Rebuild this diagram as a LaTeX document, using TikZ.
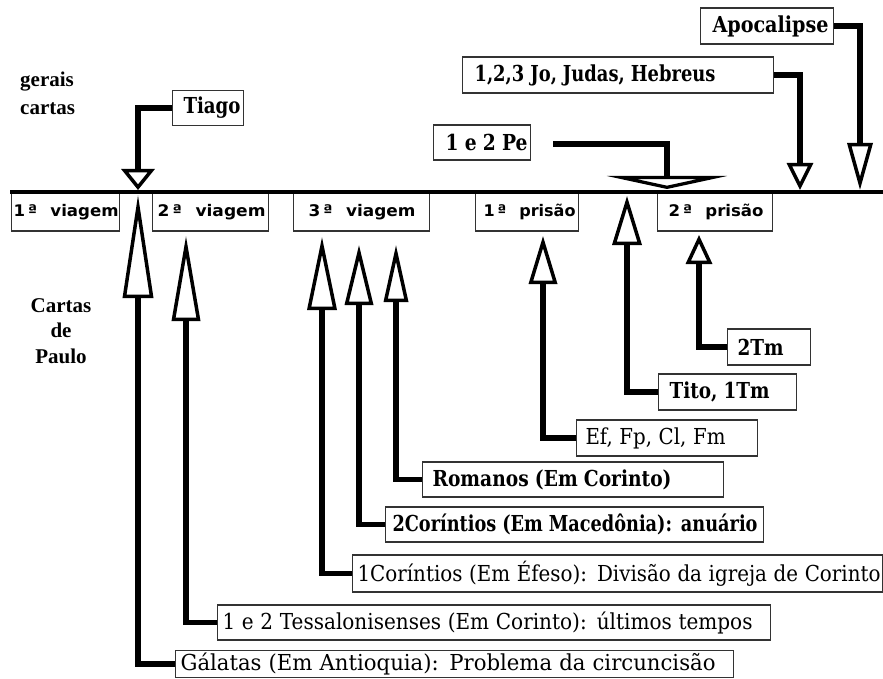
\documentclass[tikz,border=0pt]{standalone}
\usepackage{fontspec}
\setmainfont{DejaVu Serif}
\newfontfamily\tmsfont{Liberation Serif}
\newfontfamily\dsansfont{DejaVu Sans}
\usepackage{graphicx}
\usetikzlibrary{arrows.meta}
\newcommand\fitw[2]{\resizebox{#1pt}{\height}{#2}}
\begin{document}
\begin{tikzpicture}[x=1pt,y=-1pt,
  box/.style={draw=black!80, line width=1.1pt, fill=white, inner sep=0pt, anchor=west, align=left, font=\fontsize{22}{26}\selectfont},
  vbox/.style={box, font=\dsansfont\bfseries\fontsize{16}{18}\selectfont},
  side/.style={font=\tmsfont\bfseries\fontsize{21}{25.5}\selectfont, inner sep=0pt},
  conn/.style={line width=5.5pt},
  hd/.style args={#1/#2}{-{Triangle[open, length=#1pt, width=#2pt, line width=3.5pt]}}
]
\useasboundingbox (0,0) rectangle (883,679);

% side labels
\node[side, anchor=base west] (gerais) at (20,87) {gerais};
\node[side, anchor=base west] (cartas) at (20,115) {cartas};
\node[side, align=center] (paulo) at (61,331) {Cartas\\de\\Paulo};

% period boxes under the timeline
\node[vbox, text width=108pt, minimum height=38pt] (v1) at (11,212) {\hspace*{2pt}\fitw{105}{1\,ª\hspace{0.8em}viagem}};
\node[vbox, text width=116pt, minimum height=38pt] (v2) at (152,212) {\hspace*{5pt}\fitw{108}{2\,ª\hspace{0.8em}viagem}};
\node[vbox, text width=136pt, minimum height=38pt] (v3) at (293,212) {\hspace*{15pt}\fitw{107}{3\,ª\hspace{0.8em}viagem}};
\node[vbox, text width=103pt, minimum height=38pt] (p1) at (475,212) {\hspace*{8pt}\fitw{92}{1\,ª\hspace{0.8em}prisão}};
\node[vbox, text width=115pt, minimum height=38pt] (p2) at (657,212) {\hspace*{11pt}\fitw{95}{2\,ª\hspace{0.8em}prisão}};

% timeline
\coordinate (tlL) at (10,192);
\coordinate (tlR) at (883,192);
\draw[line width=4pt] (tlL) -- (tlR);

% general letters (above)
\node[box, text width=71pt, minimum height=35pt] (tiago) at (172,108) {\hspace*{11pt}\fitw{57}{\bfseries Tiago}};
\node[box, text width=133pt, minimum height=36pt] (apo) at (700,26) {\hspace*{12pt}\fitw{116}{\bfseries Apocalipse}};
\node[box, text width=311pt, minimum height=36pt] (jo) at (462,75) {\hspace*{12pt}\fitw{241}{\bfseries 1,2,3 Jo, Judas, Hebreus}};
\node[box, text width=97pt, minimum height=35pt] (pe) at (433,142.5) {\hspace*{12pt}\fitw{82}{\bfseries 1 e 2 Pe}};

% Paul's letters (below)
\node[box, text width=83pt, minimum height=36pt] (tm2) at (727,347) {\hspace*{10pt}\fitw{46}{\bfseries 2Tm}};
\node[box, text width=138pt, minimum height=36pt] (tito) at (658,392) {\hspace*{11pt}\fitw{100}{\bfseries Tito, 1Tm}};
\node[box, text width=181pt, minimum height=36pt] (ef) at (576,438) {\hspace*{9pt}\fitw{140}{Ef, Fp, Cl, Fm}};
\node[box, text width=301pt, minimum height=35pt] (rom) at (422,479.5) {\hspace*{10pt}\fitw{239}{\bfseries Romanos (Em Corinto)}};
\node[box, text width=378pt, minimum height=35pt] (cor2) at (385,524.5) {\hspace*{7pt}\fitw{365}{\bfseries 2Coríntios (Em Macedônia): anuário}};
\node[box, text width=530pt, minimum height=37pt] (cor1) at (352,573.5) {\hspace*{5pt}\fitw{523}{1Coríntios (Em Éfeso): Divisão da igreja de Corinto}};
\node[box, text width=553pt, minimum height=35pt] (tess) at (217,622.5) {\hspace*{5pt}\fitw{530}{1 e 2 Tessalonisenses (Em Corinto): últimos tempos}};
\node[box, text width=558pt, minimum height=27pt] (gal) at (175,664) {\hspace*{5pt}\fitw{535}{Gálatas (Em Antioquia): Problema da circuncisão}};

% arrow tip coordinates
\coordinate (tTia) at (138,190);
\coordinate (tApo) at (860,190);
\coordinate (tJo) at (800,190);
\coordinate (peS) at (553,144);
\coordinate (tPe) at (667,189);
\coordinate (tGal) at (138,195);
\coordinate (tTes) at (186,236);
\coordinate (tCo1) at (322,237);
\coordinate (tCo2) at (359,245);
\coordinate (tRom) at (396,245);
\coordinate (tEf) at (543,236);
\coordinate (tTit) at (627,196);
\coordinate (tTm2) at (699,235);

% connectors to the timeline (down)
\draw[conn, hd=21/33] (tiago.west) -| (tTia);
\draw[conn, hd=47/25] (apo.east) -| (tApo);
\draw[conn, hd=27/26] (jo.east) -| (tJo);
\draw[conn, hd=13/120] (peS) -| (tPe);

% connectors to the periods (up)
\draw[conn, hd=103/30] (gal.west) -| (tGal);
\draw[conn, hd=85/28] (tess.west) -| (tTes);
\draw[conn, hd=73/29] (cor1.west) -| (tCo1);
\draw[conn, hd=60/28] (cor2.west) -| (tCo2);
\draw[conn, hd=57/24] (rom.west) -| (tRom);
\draw[conn, hd=48/28] (ef.west) -| (tEf);
\draw[conn, hd=49/29] (tito.west) -| (tTit);
\draw[conn, hd=29/26] (tm2.west) -| (tTm2);
\end{tikzpicture}
\end{document}
